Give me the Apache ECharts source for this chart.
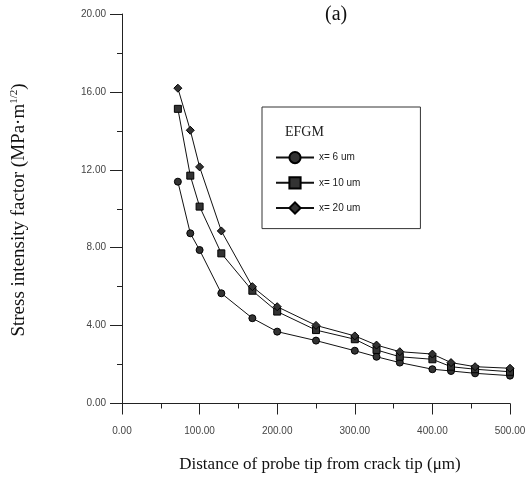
<!DOCTYPE html>
<html>
<head>
<meta charset="utf-8">
<script src="https://cdn.jsdelivr.net/npm/echarts@6/dist/echarts.min.js"></script>
<style>
  html, body { margin: 0; padding: 0; background: #fff; }
  #main { width: 530px; height: 478px; }
</style>
</head>
<body>
<div id="main"></div>
<script>
// distance of probe tip (um)
const distance = [72, 88, 100, 128, 168, 200, 250, 300, 328, 358, 400, 424, 455, 500]
// stress intensity factor, one list per series
const k6 = [11.39, 8.74, 7.88, 5.66, 4.38, 3.69, 3.23, 2.71, 2.40, 2.10, 1.76, 1.67, 1.55, 1.43]
const k10 = [15.13, 11.70, 10.11, 7.71, 5.79, 4.72, 3.77, 3.30, 2.75, 2.40, 2.27, 1.89, 1.76, 1.63]
const k20 = [16.19, 14.03, 12.15, 8.86, 6.00, 4.97, 4.01, 3.47, 3.00, 2.66, 2.54, 2.10, 1.89, 1.81]
const seriesNames = ['x= 6 um', 'x= 10 um', 'x= 20 um']
const symbols = ['circle', 'rect', 'diamond']

const pairs = ys => distance.map((x, i) => [x, ys[i]])

const makeSeries = (name, ys, symbol) => ({
  name: name,
  type: 'line',
  data: pairs(ys),
  symbol: symbol,
  symbolSize: symbol === 'diamond' ? 8 : 7,
  showAllSymbol: true,
  lineStyle: { color: '#111', width: 1 },
  itemStyle: { color: '#333', borderColor: '#000', borderWidth: 1 },
  emphasis: { disabled: true }
})

const chart = echarts.init(document.getElementById('main'))

const option = {
  animation: false,
  backgroundColor: '#fff',
  title: {
    text: '(a)',
    left: 320,
    top: 0,
    textStyle: { fontFamily: 'Liberation Serif', fontSize: 20, fontWeight: 'normal', color: '#111' }
  },
  grid: { left: 122, right: 20, top: 14, bottom: 74.5 },
  legend: {
    orient: 'vertical',
    left: 262,
    top: 107,
    data: seriesNames,
    itemWidth: 38,
    itemHeight: 14,
    itemGap: 12,
    padding: [44, 60, 14, 13],
    borderColor: '#333',
    borderWidth: 1,
    textStyle: { fontFamily: 'Liberation Sans', fontSize: 10, color: '#222' }
  },
  graphic: [
    {
      type: 'text',
      left: 285,
      top: 125,
      style: { text: 'EFGM', fontFamily: 'Liberation Serif', fontSize: 14, fill: '#222' }
    },
    {
      // y axis title
      type: 'text',
      x: 19,
      y: 210,
      rotation: Math.PI / 2,
      style: {
        text: 'Stress intensity factor (MPa\u00b7m{sup|1/2})',
        fontFamily: 'Liberation Serif', fontSize: 19, fill: '#111',
        align: 'center', verticalAlign: 'middle',
        rich: { sup: { fontFamily: 'Liberation Serif', fontSize: 11, fill: '#111', padding: [0, 0, 10, 0] } }
      }
    },
    {
      type: 'text',
      x: 320,
      y: 465,
      style: {
        text: 'Distance of probe tip from crack tip (\u03bcm)',
        fontFamily: 'Liberation Serif', fontSize: 17, fill: '#111',
        align: 'center', verticalAlign: 'middle'
      }
    }
  ],
  xAxis: {
    type: 'value',
    min: 0,
    max: 500,
    interval: 100,
    axisLine: { lineStyle: { color: '#222', width: 1 } },
    axisTick: { inside: false, length: 11, lineStyle: { color: '#222' } },
    minorTick: { show: true, splitNumber: 2, length: 5, lineStyle: { color: '#222' } },
    splitLine: { show: false },
    axisLabel: {
      margin: 23,
      formatter: v => v.toFixed(2),
      fontFamily: 'Liberation Sans', fontSize: 10, color: '#444'
    }
  },
  yAxis: {
    type: 'value',
    min: 0,
    max: 20,
    interval: 4,
    axisLine: { show: true, lineStyle: { color: '#222', width: 1 } },
    axisTick: { show: true, inside: false, length: 12, lineStyle: { color: '#222' } },
    minorTick: { show: true, splitNumber: 2, length: 5, lineStyle: { color: '#222' } },
    splitLine: { show: false },
    axisLabel: {
      margin: 16,
      formatter: v => v.toFixed(2),
      fontFamily: 'Liberation Sans', fontSize: 10, color: '#444'
    }
  },
  series: [
    makeSeries(seriesNames[0], k6, symbols[0]),
    makeSeries(seriesNames[1], k10, symbols[1]),
    makeSeries(seriesNames[2], k20, symbols[2])
  ]
}

chart.setOption(option)
</script>
</body>
</html>
